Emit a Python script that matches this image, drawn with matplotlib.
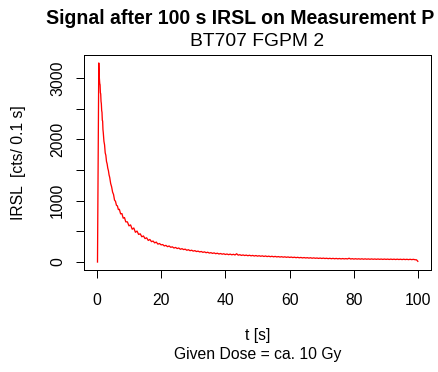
import matplotlib
matplotlib.use("Agg")
import matplotlib.pyplot as plt

plt.rcParams['font.family'] = ['Liberation Sans', 'DejaVu Sans']

# IRSL decay curve (time in s, counts per 0.1 s channel)
t_early = [0.2, 0.6, 0.7, 0.8, 0.9, 1.0, 1.1, 1.2, 1.3, 1.4, 1.5, 1.6, 1.7, 1.8, 1.9,
           2.0, 2.2, 2.4, 2.6, 2.8, 3.0, 3.2, 3.4, 3.6, 3.8, 4.0, 4.3, 4.6, 4.9, 5.2,
           5.5, 5.8, 6.1, 6.4, 6.7, 7.0, 7.4, 7.8, 8.2, 8.6, 9.0, 9.5, 10.0, 10.5,
           11.0, 11.5, 12.0, 12.5, 13.0, 13.5, 14.0, 14.5, 15.0, 15.5, 16.0, 16.5,
           17.0, 17.5, 18.0, 18.5, 19.0, 19.5, 20.0]
cts_early = [0, 3245, 3060, 2980, 2910, 2890, 2760, 2740, 2620, 2580, 2470, 2440, 2310,
             2300, 2160, 2110, 1970, 1910, 1780, 1740, 1640, 1600, 1530, 1490, 1420,
             1380, 1280, 1225, 1140, 1100, 1010, 990, 925, 915, 855, 860, 785, 790, 715,
             725, 655, 655, 590, 605, 535, 555, 485, 505, 450, 460, 412, 425, 382, 395,
             352, 368, 332, 342, 312, 325, 292, 302, 280]

t_tail = [20.5, 21.0, 21.5, 22.0, 22.5, 23.0, 23.5, 24.0, 24.5, 25.0, 25.5, 26.0, 26.5,
          27.0, 27.5, 28.0, 28.5, 29.0, 29.5, 30.0, 30.5, 31.0, 31.5, 32.0, 32.5, 33.0,
          33.5, 34.0, 34.5, 35.0, 35.5, 36.0, 36.5, 37.0, 37.5, 38.0, 38.5, 39.0, 39.5,
          40.0, 40.5, 41.0, 41.5, 42.0, 42.5, 43.0, 43.5, 44.0, 44.5, 45.0, 45.5, 46.0,
          46.5, 47.0, 47.5, 48.0, 48.5, 49.0, 49.5, 50.0, 50.5, 51.0, 51.5, 52.0, 52.5,
          53.0, 53.5, 54.0, 54.5, 55.0, 55.5, 56.0, 56.5, 57.0, 57.5, 58.0, 58.5, 59.0,
          59.5, 60.0, 60.5, 61.0, 61.5, 62.0, 62.5, 63.0, 63.5, 64.0, 64.5, 65.0, 65.5,
          66.0, 66.5, 67.0, 67.5, 68.0, 68.5, 69.0, 69.5, 70.0, 70.5, 71.0, 71.5, 72.0,
          72.5, 73.0, 73.5, 74.0, 74.5, 75.0, 75.5, 76.0, 76.5, 77.0, 77.5, 78.0, 78.5,
          79.0, 79.5, 80.0, 80.5, 81.0, 81.5, 82.0, 82.5, 83.0, 83.5, 84.0, 84.5, 85.0,
          85.5, 86.0, 86.5, 87.0, 87.5, 88.0, 88.5, 89.0, 89.5, 90.0, 90.5, 91.0, 91.5,
          92.0, 92.5, 93.0, 93.5, 94.0, 94.5, 95.0, 95.5, 96.0, 96.5, 97.0, 97.5, 98.0,
          98.5, 99.0, 99.5, 99.9]
cts_tail = [285, 262, 272, 250, 262, 240, 248, 228, 238, 220, 229, 208, 218, 203, 210,
            192, 201, 185, 193, 178, 186, 171, 178, 165, 172, 158, 166, 152, 160, 146,
            153, 141, 149, 136, 144, 131, 139, 128, 135, 123, 131, 120, 129, 118, 126,
            115, 135, 112, 120, 108, 116, 106, 113, 103, 111, 101, 108, 98, 106, 96,
            103, 94, 101, 91, 99, 89, 96, 87, 94, 85, 92, 83, 89, 81, 87, 79, 85, 77,
            83, 75, 81, 73, 79, 71, 77, 69, 75, 67, 73, 66, 71, 64, 70, 62, 68, 61, 66,
            59, 65, 58, 64, 57, 62, 55, 61, 54, 60, 53, 59, 52, 58, 51, 57, 51, 56, 50,
            62, 49, 55, 48, 54, 48, 53, 47, 53, 46, 52, 46, 51, 45, 51, 45, 50, 44, 50,
            44, 49, 43, 49, 43, 48, 42, 48, 42, 47, 41, 47, 41, 46, 40, 46, 40, 45, 39,
            45, 39, 44, 38, 36, 12]

t = t_early + t_tail
cts = cts_early + cts_tail

x_ticks = [0, 20, 40, 60, 80, 100]
y_ticks = [0, 500, 1000, 1500, 2000, 2500, 3000]
y_labels = ['0', '', '1000', '', '2000', '', '3000']

W, H = 438, 372
fig = plt.figure(figsize=(W / 72, H / 72), dpi=72)
ax = fig.add_axes([84 / W, 1 - 270 / H, 347 / W, 215 / H])

ax.plot(t, cts, color='#ff0000', lw=1.3)

ymax = max(cts)
ax.set_xlim(-0.04 * 100, 100 + 0.04 * 100)
ax.set_ylim(-0.04 * ymax, ymax * 1.04)
ax.set_xticks(x_ticks)
ax.set_yticks(y_ticks)
ax.set_yticklabels(y_labels, rotation=90, va='center')
ax.tick_params(axis='both', direction='out', length=8, width=1, colors='black',
               labelsize=15.7)
ax.tick_params(axis='x', pad=15)
ax.tick_params(axis='y', pad=11)
for s in ax.spines.values():
    s.set_linewidth(1.0)
    s.set_color('black')

fig.text(46 / W, 1 - 24 / H, 'Signal after 100 s IRSL on Measurement P',
         fontsize=19.5, fontweight='bold', ha='left', va='baseline')
fig.text(257.5 / W, 1 - 46.5 / H, 'BT707 FGPM 2', fontsize=19.2,
         ha='center', va='baseline')
fig.text(19 / W, 1 - 162.5 / H, 'IRSL  [cts/ 0.1 s]', fontsize=15.7,
         rotation=90, ha='center', va='center')
fig.text(257.5 / W, 1 - 340 / H, 't [s]', fontsize=15.7, ha='center', va='baseline')
fig.text(257.5 / W, 1 - 359.5 / H, 'Given Dose = ca. 10 Gy', fontsize=15.7,
         ha='center', va='baseline')

fig.savefig('out.png', dpi=72)
